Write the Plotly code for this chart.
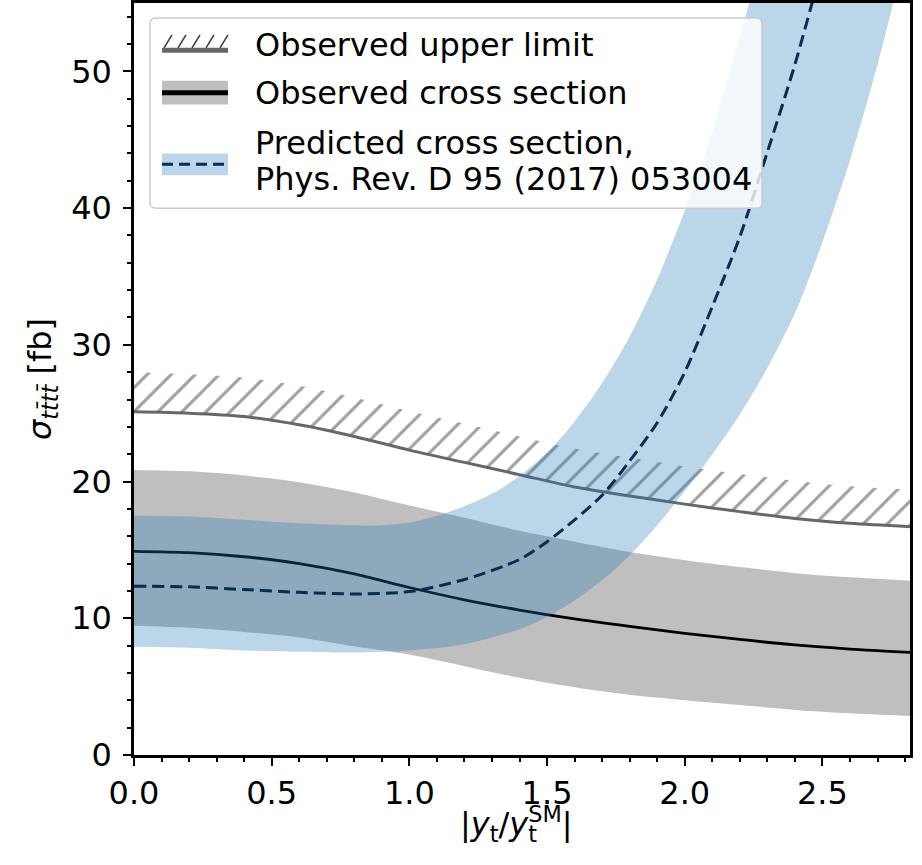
import plotly.graph_objects as go

# ---------------- data ----------------
x_limit = [0.0, 0.2, 0.4, 0.6, 0.8, 1.0, 1.2, 1.4, 1.6, 1.8, 2.0, 2.2, 2.4, 2.6, 2.82]
limit = [25.1, 25.0, 24.75, 24.15, 23.3, 22.3, 21.4, 20.5, 19.6, 18.95, 18.35, 17.8, 17.3, 16.95, 16.7]
limit_hatch_top = [28.0, 27.85, 27.6, 27.0, 26.15, 25.15, 24.25, 23.3, 22.4, 21.75, 21.1, 20.55, 20.05, 19.65, 19.4]

x_obs = [0.0, 0.2, 0.4, 0.6, 0.8, 1.0, 1.2, 1.4, 1.6, 1.8, 2.0, 2.2, 2.4, 2.6, 2.82]
obs = [14.9, 14.8, 14.5, 14.0, 13.25, 12.25, 11.35, 10.6, 9.95, 9.4, 8.9, 8.45, 8.05, 7.75, 7.5]
obs_hi = [20.85, 20.75, 20.45, 19.95, 19.2, 18.25, 17.35, 16.4, 15.6, 14.85, 14.25, 13.75, 13.3, 13.0, 12.75]
obs_lo = [9.45, 9.3, 9.0, 8.6, 7.95, 7.35, 6.5, 5.65, 4.95, 4.4, 4.0, 3.65, 3.3, 3.05, 2.85]

x_pred = [0.0, 0.2, 0.4, 0.6, 0.8, 1.0, 1.2, 1.4, 1.5, 1.6, 1.7, 1.8, 1.9, 2.0, 2.1, 2.2, 2.3, 2.4, 2.5]
pred = [12.35, 12.3, 12.1, 11.9, 11.78, 11.95, 12.84, 14.3, 15.6, 17.2, 19.0, 21.5, 24.3, 28.0, 32.8, 37.9, 44.1, 50.5, 57.8]

x_pred_hi = [0.0, 0.2, 0.4, 0.6, 0.8, 0.9, 1.0, 1.1, 1.2, 1.3, 1.4, 1.5, 1.6, 1.7, 1.8, 1.9, 2.0, 2.1, 2.2, 2.3]
pred_hi = [17.5, 17.45, 17.2, 16.95, 16.8, 16.8, 17.0, 17.5, 18.2, 19.1, 20.4, 22.1, 24.4, 27.2, 30.6, 34.8, 39.8, 45.6, 52.5, 60.0]

x_pred_lo = [0.0, 0.2, 0.4, 0.6, 0.8, 1.0, 1.2, 1.4, 1.5, 1.6, 1.7, 1.8, 1.9, 2.0, 2.1, 2.2, 2.3, 2.4, 2.5, 2.6, 2.7, 2.8]
pred_lo = [7.92, 7.85, 7.65, 7.55, 7.5, 7.65, 8.1, 9.2, 10.1, 11.3, 12.8, 14.6, 16.8, 19.3, 22.0, 24.9, 28.3, 32.3, 37.5, 43.5, 50.5, 58.5]

x_ticks = [0.0, 0.5, 1.0, 1.5, 2.0, 2.5]
y_ticks = [0, 10, 20, 30, 40, 50]

legend_labels = ["Observed upper limit", "Observed cross section",
                 "Predicted cross section,", "Phys. Rev. D 95 (2017) 053004"]

# ---------------- styling ----------------
FONT = "DejaVu Sans"
FS = 32
GREY_BAND = "rgb(191,191,191)"
BLUE_BAND = "rgba(31,119,180,0.3)"
NAVY = "#0b2b50"
LIMIT_GREY = "#676767"
HATCH_GREY = "#3f3f3f"
DASH = "12px,6px"

W, H = 922, 865
L, R, T, B = 134, 910, 0, 755


def px(x):
    return (x - L) / (R - L)


def py(y):
    return 1 - (y - T) / (B - T)


fig = go.Figure()
common = dict(mode="lines", hoverinfo="skip", showlegend=False)

# grey band (observed uncertainty)
fig.add_trace(go.Scatter(x=x_obs, y=obs_lo, line=dict(width=0, shape="spline", smoothing=0.8), **common))
fig.add_trace(go.Scatter(x=x_obs, y=obs_hi, fill="tonexty", fillcolor=GREY_BAND,
                         line=dict(width=0, shape="spline", smoothing=0.8), **common))

# observed cross section
fig.add_trace(go.Scatter(x=x_obs, y=obs,
                         line=dict(color="black", width=2.8, shape="spline", smoothing=0.8), **common))

# hatched region above the upper limit
fig.add_trace(go.Scatter(x=x_limit, y=limit, line=dict(width=0, shape="spline", smoothing=0.8), **common))
fig.add_trace(go.Scatter(x=x_limit, y=limit_hatch_top, fill="tonexty", fillcolor="rgba(0,0,0,0)",
                         fillpattern=dict(shape="/", fgcolor=HATCH_GREY, bgcolor="rgba(0,0,0,0)",
                                          size=17, solidity=0.18),
                         line=dict(width=0, shape="spline", smoothing=0.8), **common))

# observed upper limit line
fig.add_trace(go.Scatter(x=x_limit, y=limit,
                         line=dict(color=LIMIT_GREY, width=3, shape="spline", smoothing=0.8), **common))

# blue band (prediction uncertainty)
fig.add_trace(go.Scatter(x=x_pred_lo, y=pred_lo, line=dict(width=0, shape="spline", smoothing=0.8), **common))
fig.add_trace(go.Scatter(x=x_pred_hi, y=pred_hi, fill="tonexty", fillcolor=BLUE_BAND,
                         line=dict(width=0, shape="spline", smoothing=0.8), **common))

# predicted cross section
fig.add_trace(go.Scatter(x=x_pred, y=pred,
                         line=dict(color=NAVY, width=3, dash=DASH, shape="spline", smoothing=0.8),
                         **common))

# ---------------- custom legend ----------------
shapes = []
annotations = []

x0, x1, y0, y1, r = 150, 762, 15, 206, 6
path = (f"M {px(x0 + r)} {py(y0)} L {px(x1 - r)} {py(y0)} Q {px(x1)} {py(y0)} {px(x1)} {py(y0 + r)} "
        f"L {px(x1)} {py(y1 - r)} Q {px(x1)} {py(y1)} {px(x1 - r)} {py(y1)} "
        f"L {px(x0 + r)} {py(y1)} Q {px(x0)} {py(y1)} {px(x0)} {py(y1 - r)} "
        f"L {px(x0)} {py(y0 + r)} Q {px(x0)} {py(y0)} {px(x0 + r)} {py(y0)} Z")
shapes.append(dict(type="path", path=path, xref="paper", yref="paper",
                   fillcolor="rgba(255,255,255,0.8)", line=dict(color="#cccccc", width=1.5),
                   layer="above"))

hx0, hx1 = 162, 228
for k in range(5):
    sx = hx0 + 2 + k * 14
    shapes.append(dict(type="line", xref="paper", yref="paper",
                       x0=px(sx), y0=py(45), x1=px(sx + 8), y1=py(32),
                       line=dict(color=HATCH_GREY, width=1.6), layer="above"))
shapes.append(dict(type="line", xref="paper", yref="paper",
                   x0=px(hx0), y0=py(47.5), x1=px(hx1), y1=py(47.5),
                   line=dict(color=LIMIT_GREY, width=5), layer="above"))
shapes.append(dict(type="rect", xref="paper", yref="paper",
                   x0=px(hx0), y0=py(102), x1=px(hx1), y1=py(78),
                   fillcolor=GREY_BAND, line=dict(width=0), layer="above"))
shapes.append(dict(type="line", xref="paper", yref="paper",
                   x0=px(hx0), y0=py(90), x1=px(hx1), y1=py(90),
                   line=dict(color="black", width=5), layer="above"))
shapes.append(dict(type="rect", xref="paper", yref="paper",
                   x0=px(hx0), y0=py(173), x1=px(hx1), y1=py(151),
                   fillcolor="rgb(187,214,233)", line=dict(width=0), layer="above"))
shapes.append(dict(type="line", xref="paper", yref="paper",
                   x0=px(hx0), y0=py(162), x1=px(hx1), y1=py(162),
                   line=dict(color=NAVY, width=3, dash="11px,6px"), layer="above"))

for label, yc in zip(legend_labels, [42, 90, 141, 177]):
    annotations.append(dict(text=label, xref="paper", yref="paper", x=px(253), y=py(yc),
                            xanchor="left", yanchor="middle", showarrow=False,
                            font=dict(family=FONT, size=FS, color="black")))

# x-axis title: "SM" superscript with a stacked "t" subscript
xt_left, xt_y = 458, 824
annotations.append(dict(text="|<i>y</i><sub>t</sub>/<i>y</i><sup>SM</sup>|",
                        xref="paper", yref="paper", x=px(xt_left), y=py(xt_y),
                        xanchor="left", yanchor="middle", showarrow=False,
                        font=dict(family=FONT, size=FS, color="black")))
HID = "rgba(0,0,0,0)"
annotations.append(dict(text=(f'<span style="color:{HID}">|<i>y</i><sub>t</sub>/<i>y</i></span>'
                              f'<sub>t</sub><span style="color:{HID}"><sup>SM</sup>|</span>'),
                        xref="paper", yref="paper", x=px(xt_left), y=py(xt_y),
                        xanchor="left", yanchor="middle", showarrow=False,
                        font=dict(family=FONT, size=FS, color="black")))

axis_common = dict(
    ticks="outside", ticklen=8, tickwidth=2, tickcolor="black",
    showline=True, linewidth=2.5, linecolor="black", mirror=True,
    showgrid=False, zeroline=False,
    tickfont=dict(family=FONT, size=FS, color="black"),
)

fig.update_layout(
    width=W, height=H,
    margin=dict(l=L, r=W - R, t=T, b=H - B),
    paper_bgcolor="white", plot_bgcolor="white",
    shapes=shapes, annotations=annotations,
    font=dict(family=FONT, size=FS, color="black"),
    xaxis=dict(
        range=[0, 2.818], tickvals=x_ticks, ticktext=[f"{v:.1f}" for v in x_ticks],
        minor=dict(dtick=0.1, tick0=0, ticks="outside", ticklen=4.5, tickwidth=1.5,
                   tickcolor="black", showgrid=False),
        **axis_common,
    ),
    yaxis=dict(
        range=[0, 55], tickvals=y_ticks, ticktext=[str(v) for v in y_ticks],
        ticklabelstandoff=5,
        minor=dict(dtick=2, tick0=0, ticks="outside", ticklen=4.5, tickwidth=1.5,
                   tickcolor="black", showgrid=False),
        title=dict(text="<i>σ</i><sub><i>tt̄tt̄</i></sub> [fb]",
                   font=dict(family=FONT, size=FS, color="black"), standoff=10),
        **axis_common,
    ),
)

fig.write_html("out.html")
